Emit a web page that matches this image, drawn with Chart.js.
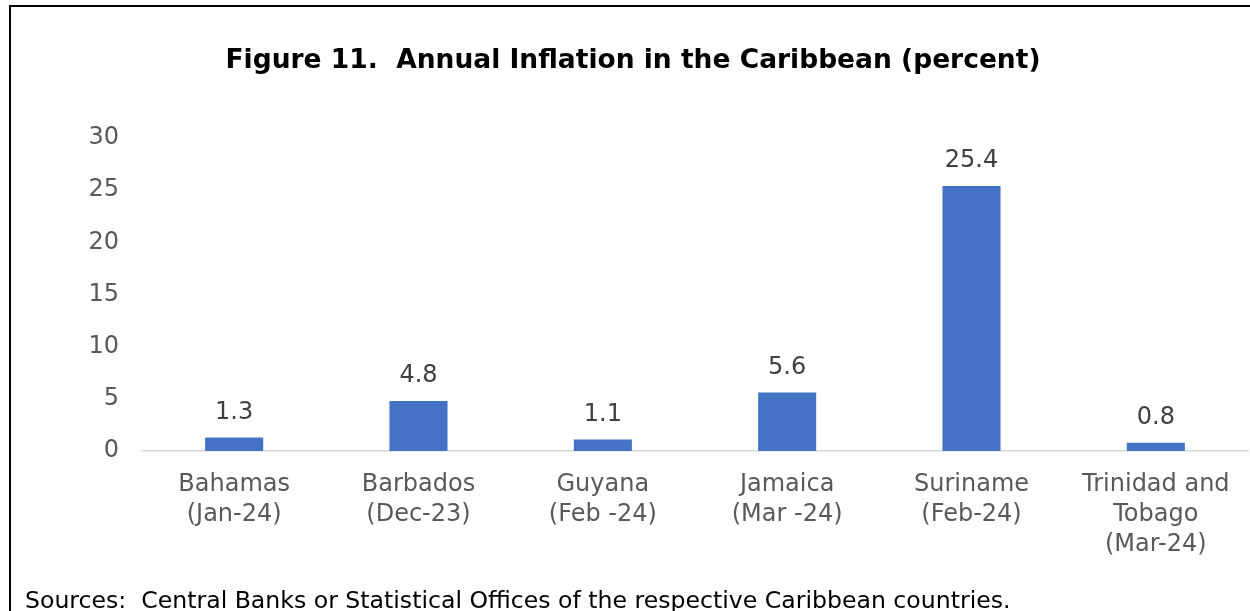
<!DOCTYPE html>
<html>
<head>
<meta charset="utf-8">
<script src="https://cdn.jsdelivr.net/npm/chart.js@4/dist/chart.umd.min.js"></script>
<style>
  html, body { margin: 0; padding: 0; background: #ffffff; overflow: hidden; }
  #wrap { position: relative; width: 1250px; height: 611px; }
  #frame { position: absolute; left: 9px; top: 5px; width: 1300px; height: 700px;
           border-left: 2px solid #000; border-top: 2px solid #000; pointer-events: none; }
  canvas { position: absolute; left: 0; top: 0; }
</style>
</head>
<body>
<div id="wrap">
  <canvas id="c" width="1250" height="611"></canvas>
  <div id="frame"></div>
</div>
<script>
const titleText = "Figure 11.  Annual Inflation in the Caribbean (percent)";
const sourceText = "Sources:  Central Banks or Statistical Offices of the respective Caribbean countries.";
const categories = [
  ["Bahamas", "(Jan-24)"],
  ["Barbados", "(Dec-23)"],
  ["Guyana", "(Feb -24)"],
  ["Jamaica", "(Mar -24)"],
  ["Suriname", "(Feb-24)"],
  ["Trinidad and", "Tobago", "(Mar-24)"]
];
const inflation = [1.3, 4.8, 1.1, 5.6, 25.4, 0.8];
const yTicks = [0, 5, 10, 15, 20, 25, 30];

const FONT = "'DejaVu Sans', sans-serif";

const textPlugin = {
  id: 'textPlugin',
  afterDraw(chart) {
    const ctx = chart.ctx;
    ctx.save();
    // title
    ctx.font = "bold 26.5px " + FONT;
    ctx.fillStyle = "#000000";
    ctx.textAlign = "center";
    ctx.textBaseline = "middle";
    ctx.fillText(titleText, 633, 61);
    // source
    ctx.font = "23.6px " + FONT;
    ctx.textAlign = "left";
    ctx.textBaseline = "alphabetic";
    ctx.fillText(sourceText, 25, 608);
    // data labels
    const meta = chart.getDatasetMeta(0);
    ctx.font = "24px " + FONT;
    ctx.fillStyle = "#404040";
    ctx.textAlign = "center";
    ctx.textBaseline = "middle";
    meta.data.forEach((bar, i) => {
      ctx.fillText(inflation[i].toFixed(1), bar.x, bar.y - 25);
    });
    ctx.restore();
  }
};

new Chart(document.getElementById('c'), {
  type: 'bar',
  data: {
    labels: categories,
    datasets: [{
      data: inflation,
      backgroundColor: '#4472C4',
      borderWidth: 0,
      categoryPercentage: 1.0,
      barPercentage: 0.315
    }]
  },
  options: {
    responsive: false,
    animation: false,
    devicePixelRatio: 1,
    layout: { padding: { top: 138, left: 0, right: 2, bottom: 0 } },
    plugins: { legend: { display: false }, tooltip: { enabled: false }, title: { display: false } },
    scales: {
      x: {
        grid: { display: false, drawTicks: false },
        border: { display: true, color: '#d9d9d9', width: 1.5 },
        ticks: {
          color: '#595959',
          font: { family: FONT, size: 24, lineHeight: 1.25 },
          padding: 19,
          maxRotation: 0,
          autoSkip: false
        },
        afterFit(scale) { scale.height = 160; }
      },
      y: {
        min: 0, max: 30,
        afterBuildTicks(scale) { scale.ticks = yTicks.map(v => ({ value: v })); },
        grid: { display: false, drawTicks: false },
        border: { display: false },
        ticks: {
          color: '#595959',
          font: { family: FONT, size: 24 },
          padding: 23
        },
        afterFit(scale) { scale.width = 142; }
      }
    }
  },
  plugins: [textPlugin]
});
</script>
</body>
</html>
